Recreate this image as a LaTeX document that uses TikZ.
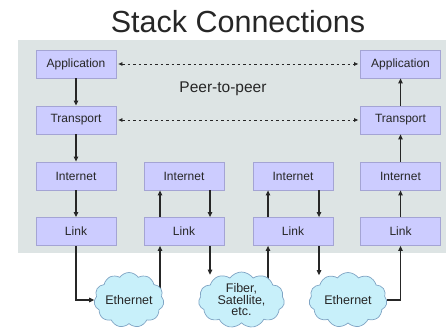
\documentclass[tikz,border=0pt]{standalone}
\usepackage{fontspec}
\setmainfont{Liberation Sans}
\usetikzlibrary{shapes.symbols,arrows.meta}
\pgfdeclarelayer{bg}
\pgfdeclarelayer{wires}
\pgfsetlayers{bg,wires,main}
\definecolor{panel}{HTML}{DDE4E4}
\definecolor{boxfill}{HTML}{CCCCFF}
\definecolor{boxline}{HTML}{A4A4D4}
\definecolor{cloudfill}{HTML}{C8F0FA}
\definecolor{cloudline}{HTML}{7FA4C4}
\definecolor{ink}{HTML}{262626}
\begin{document}
\begin{tikzpicture}[x=1pt,y=-1pt,
  layer/.style={draw=boxline, line width=0.8pt, fill=boxfill, minimum width=80pt,
    minimum height=28pt, inner sep=0pt, text=ink, font=\fontsize{12}{14}\selectfont},
  net/.style={cloud, cloud puffs=11, cloud puff arc=110, cloud ignores aspect,
    draw=cloudline, line width=0.7pt, fill=cloudfill, inner sep=0pt, align=center,
    text=ink, font=\fontsize{12.5}{11.5}\selectfont},
  flow/.style={draw=ink, line width=1.1pt, -{Triangle[length=5pt,width=4.5pt]}},
  peer/.style={draw=ink, line width=0.7pt, dash pattern=on 2.5pt off 3pt,
    {Triangle[length=4pt,width=3.5pt]}-{Triangle[length=4pt,width=3.5pt]},
    shorten <=2pt, shorten >=2pt}
]
\useasboundingbox (0,0) rectangle (446,328);

% title and shaded host area
\node[font=\fontsize{30.5}{32}\selectfont, text=ink] (title) at (238,22) {Stack Connections};
\begin{pgfonlayer}{bg}
  \fill[panel] (18,40) rectangle (446,253);
\end{pgfonlayer}
\node[font=\fontsize{15.5}{17}\selectfont, text=ink] (p2p) at (223,89) {Peer-to-peer};

% protocol stacks
\node[layer] (A1) at (76,64)    {Application};
\node[layer] (T1) at (76,120)   {Transport};
\node[layer] (I1) at (76,176)   {Internet};
\node[layer] (L1) at (76,231.5) {Link};

\node[layer] (I2) at (184,176)   {Internet};
\node[layer] (L2) at (184,231.5) {Link};

\node[layer] (I3) at (293,176)   {Internet};
\node[layer] (L3) at (293,231.5) {Link};

\node[layer] (A4) at (400.5,64)    {Application};
\node[layer] (T4) at (400.5,120)   {Transport};
\node[layer] (I4) at (400.5,176)   {Internet};
\node[layer] (L4) at (400.5,231.5) {Link};

% physical networks
\node[net, minimum width=70pt, minimum height=55pt] (E1) at (129,300) {Ethernet};
\node[net, minimum width=86pt, minimum height=56pt] (E2) at (241.5,300) {Fiber,\\Satellite,\\etc.};
\node[net, minimum width=78pt, minimum height=55pt] (E3) at (348,300) {Ethernet};

% peer-to-peer relations
\draw[peer] (A1) -- (A4);
\draw[peer] (T1) -- (T4);

% sending host
\draw[flow] (A1) -- (T1);
\draw[flow] (T1) -- (I1);
\draw[flow] (I1) -- (L1);
\draw[flow] (L1.south) |- (E1.west);

% first router
\begin{pgfonlayer}{wires}
  \draw[flow] ([xshift=-24pt]L2.south |- E1.center) -- ([xshift=-24pt]L2.south);
\end{pgfonlayer}
\draw[flow] ([xshift=-24pt]L2.north) -- ([xshift=-24pt]I2.south);
\draw[flow] ([xshift=26pt]I2.south) -- ([xshift=26pt]L2.north);
\draw[flow] ([xshift=26pt]L2.south) -- ([xshift=26pt,yshift=-3pt]L2.south |- E2.north);

% second router
\begin{pgfonlayer}{wires}
  \draw[flow] ([xshift=-25pt]L3.south |- E2.center) -- ([xshift=-25pt]L3.south);
\end{pgfonlayer}
\draw[flow] ([xshift=-25pt]L3.north) -- ([xshift=-25pt]I3.south);
\draw[flow] ([xshift=26pt]I3.south) -- ([xshift=26pt]L3.north);
\draw[flow] ([xshift=26pt]L3.south) -- ([xshift=26pt,yshift=-3pt]L3.south |- E3.north);

% receiving host
\draw[flow] (E3.east) -| (L4.south);
\draw[flow] (L4) -- (I4);
\draw[flow] (I4) -- (T4);
\draw[flow] (T4) -- (A4);
\end{tikzpicture}
\end{document}
